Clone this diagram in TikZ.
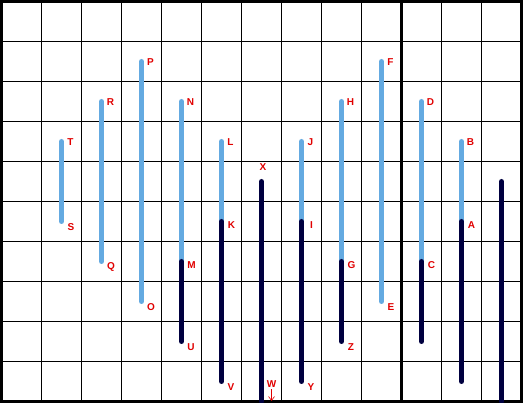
\documentclass[tikz,border=0pt]{standalone}
\usepackage{fontspec}
\setmainfont{Liberation Sans}
\usetikzlibrary{arrows.meta}
\definecolor{lightbar}{RGB}{100,170,225}
\definecolor{darkbar}{RGB}{0,0,64}
\definecolor{lblred}{RGB}{225,0,0}
\tikzset{
  gridline/.style={line width=1pt, black},
  frame/.style={line width=3pt, black},
  lbar/.style={line width=5pt, lightbar, line cap=round},
  dbar/.style={line width=5pt, darkbar, line cap=round},
  lbl/.style={font=\bfseries\fontsize{10}{10}\selectfont, text=lblred, inner sep=0pt, anchor=center},
}
\begin{document}
\begin{tikzpicture}[x=1pt,y=-1pt]
\useasboundingbox (0,0) rectangle (523,403);
\fill[white] (0,0) rectangle (523,403);
% grid
\foreach \gx in {41.5,81.5,...,481.5} \draw[gridline] (\gx,1.5) -- (\gx,401.5);
\foreach \gy in {41.5,81.5,...,361.5} \draw[gridline] (1.5,\gy) -- (521.5,\gy);
\draw[frame] (401.5,1.5) -- (401.5,401.5);
\draw[frame] (1.5,1.5) rectangle (521.5,401.5);
% coordinates
\coordinate (T) at (61.5,141.5);  \coordinate (S) at (61.5,221.5);
\coordinate (R) at (101.5,101.5); \coordinate (Q) at (101.5,261.5);
\coordinate (P) at (141.5,61.5);  \coordinate (O) at (141.5,301.5);
\coordinate (N) at (181.5,101.5); \coordinate (M) at (181.5,261.5); \coordinate (U) at (181.5,341.5);
\coordinate (L) at (221.5,141.5); \coordinate (K) at (221.5,221.5); \coordinate (V) at (221.5,381.5);
\coordinate (X) at (261.5,181.5); \coordinate (W) at (261.5,401.5);
\coordinate (J) at (301.5,141.5); \coordinate (I) at (301.5,221.5); \coordinate (Y) at (301.5,381.5);
\coordinate (H) at (341.5,101.5); \coordinate (G) at (341.5,261.5); \coordinate (Z) at (341.5,341.5);
\coordinate (F) at (381.5,61.5);  \coordinate (E) at (381.5,301.5);
\coordinate (D) at (421.5,101.5); \coordinate (C) at (421.5,261.5); \coordinate (Cb) at (421.5,341.5);
\coordinate (B) at (461.5,141.5); \coordinate (A) at (461.5,221.5); \coordinate (Ab) at (461.5,381.5);
\coordinate (Rt) at (501.5,181.5); \coordinate (Rb) at (501.5,401.5);
% light bars
\draw[lbar] (T) -- (S);
\draw[lbar] (R) -- (Q);
\draw[lbar] (P) -- (O);
\draw[lbar] (N) -- (M);
\draw[lbar] (L) -- (K);
\draw[lbar] (J) -- (I);
\draw[lbar] (H) -- (G);
\draw[lbar] (F) -- (E);
\draw[lbar] (D) -- (C);
\draw[lbar] (B) -- (A);
% dark bars
\draw[dbar] (M) -- (U);
\draw[dbar] (K) -- (V);
\draw[dbar] (X) -- (W);
\draw[dbar] (I) -- (Y);
\draw[dbar] (G) -- (Z);
\draw[dbar] (C) -- (Cb);
\draw[dbar] (A) -- (Ab);
\draw[dbar] (Rt) -- (Rb);
% labels: top
\foreach \n in {T,R,P,N,L,J,H,F,D,B}
  \node[lbl] (l\n) at ([shift={(9,1)}]\n) {\n};
% labels: middle
\foreach \n in {M,K,I,G,C,A}
  \node[lbl] (l\n) at ([shift={(10,4)}]\n) {\n};
% labels: bottom
\foreach \n in {S,Q,O,U,V,Y,Z,E}
  \node[lbl] (l\n) at ([shift={(9.5,5.5)}]\n) {\n};
\node[lbl] (lX) at ([shift={(1.5,-14)}]X) {X};
\node[lbl] (lW) at ([shift={(10,-17.5)}]W) {W};
\coordinate (wa) at ([shift={(0,1.5)}]lW.south);
\coordinate (wb) at ([shift={(0,-0.5)}]W -| lW.south);
\draw[lblred, line width=0.6pt, -{Straight Barb[length=4pt,width=6pt]}] (wa) -- (wb);
\end{tikzpicture}
\end{document}
